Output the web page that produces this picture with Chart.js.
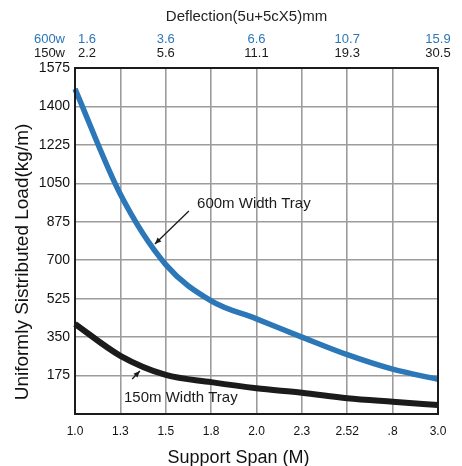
<!DOCTYPE html>
<html>
<head>
<meta charset="utf-8">
<script src="https://cdn.jsdelivr.net/npm/chart.js@4.4.1/dist/chart.umd.min.js"></script>
<style>
html, body { margin: 0; padding: 0; background: #fff; }
</style>
</head>
<body>
<canvas id="myChart" width="462" height="466"></canvas>
<script>
// support span categories (as printed on the chart)
let spanLabels = ['1.0', '1.3', '1.5', '1.8', '2.0', '2.3', '2.52', '.8', '3.0'];

// uniformly distributed load, kg/m
let load600 = [1480, 1000, 680, 515, 433, 350, 270, 204, 158];
let load150 = [410, 265, 178, 145, 117, 97, 72, 56, 41];

// deflection rows on top
let deflectionAt = ['1.0', '1.5', '2.0', '2.52', '3.0'];
let deflection600 = ['1.6', '3.6', '6.6', '10.7', '15.9'];
let deflection150 = ['2.2', '5.6', '11.1', '19.3', '30.5'];

let yTicks = [0, 175, 350, 525, 700, 875, 1050, 1225, 1400, 1575];

const FONT = "'Liberation Sans', Arial, Helvetica, sans-serif";
const BLUE = '#2c77b8';
const BLACK = '#1b1b1b';

// arrows and their labels, given in (category index, load) so they follow the scales
const notes = [
    {text: '600m Width Tray', at: [2.69, 956], from: [2.51, 924], to: [1.76, 774]},
    {text: '150m Width Tray', at: [1.08, 73], from: [1.26, 159], to: [1.43, 196]}
];

const extrasPlugin = {
    id: 'extras',
    afterDraw(chart) {
        const ctx = chart.ctx;
        const area = chart.chartArea;
        const x = chart.scales.x;
        const y = chart.scales.y;
        ctx.save();

        // frame round the plot
        ctx.strokeStyle = BLACK;
        ctx.lineWidth = 2;
        ctx.strokeRect(area.left, area.top, area.right - area.left, area.bottom - area.top);

        // deflection header
        ctx.fillStyle = '#222';
        ctx.textBaseline = 'middle';
        ctx.textAlign = 'center';
        ctx.font = '15px ' + FONT;
        ctx.fillText('Deflection(5u+5cX5)mm', (area.left + area.right) / 2 - 10, 17);

        ctx.font = '13px ' + FONT;
        ctx.textAlign = 'right';
        ctx.fillStyle = BLUE;
        ctx.fillText('600w', area.left - 10, 39);
        ctx.fillStyle = BLACK;
        ctx.fillText('150w', area.left - 10, 53);
        deflectionAt.forEach(function(lab, i) {
            let px = x.getPixelForValue(spanLabels.indexOf(lab));
            if (i === 0) {
                ctx.textAlign = 'left';
                px += 3;
            } else {
                ctx.textAlign = 'center';
            }
            ctx.fillStyle = BLUE;
            ctx.fillText(deflection600[i], px, 39);
            ctx.fillStyle = BLACK;
            ctx.fillText(deflection150[i], px, 53);
        });

        // axis titles
        ctx.fillStyle = '#111';
        ctx.textAlign = 'center';
        ctx.font = '18px ' + FONT;
        ctx.fillText('Support Span (M)', (area.left + area.right) / 2 - 18, 458);
        ctx.save();
        ctx.translate(23, (area.top + area.bottom) / 2 + 21);
        ctx.rotate(-Math.PI / 2);
        ctx.font = '19px ' + FONT;
        ctx.fillText('Uniformly Sistributed Load(kg/m)', 0, 0);
        ctx.restore();

        // annotations
        ctx.font = '15px ' + FONT;
        ctx.textAlign = 'left';
        ctx.strokeStyle = BLACK;
        ctx.fillStyle = BLACK;
        ctx.lineWidth = 1.3;
        notes.forEach(function(n) {
            ctx.fillText(n.text, x.getPixelForValue(n.at[0]), y.getPixelForValue(n.at[1]));
            const x1 = x.getPixelForValue(n.from[0]), y1 = y.getPixelForValue(n.from[1]);
            const x2 = x.getPixelForValue(n.to[0]), y2 = y.getPixelForValue(n.to[1]);
            ctx.beginPath();
            ctx.moveTo(x1, y1);
            ctx.lineTo(x2, y2);
            ctx.stroke();
            const ang = Math.atan2(y2 - y1, x2 - x1);
            const len = 7, w = 0.4;
            ctx.beginPath();
            ctx.moveTo(x2, y2);
            ctx.lineTo(x2 - len * Math.cos(ang - w), y2 - len * Math.sin(ang - w));
            ctx.lineTo(x2 - len * Math.cos(ang + w), y2 - len * Math.sin(ang + w));
            ctx.closePath();
            ctx.fill();
        });

        ctx.restore();
    }
};

let chartElement = document.getElementById('myChart').getContext('2d');

let myChart = new Chart(chartElement, {
    type: 'line',
    data: {
        labels: spanLabels,
        datasets: [{
            label: '600m Width Tray',
            data: load600,
            borderColor: BLUE,
            borderWidth: 5.5,
            pointRadius: 0,
            cubicInterpolationMode: 'monotone',
            fill: false
        }, {
            label: '150m Width Tray',
            data: load150,
            borderColor: BLACK,
            borderWidth: 6,
            pointRadius: 0,
            cubicInterpolationMode: 'monotone',
            fill: false
        }]
    },
    options: {
        responsive: false,
        animation: false,
        layout: {
            padding: {top: 68, right: 24, left: 0, bottom: 0}
        },
        plugins: {
            legend: {display: false},
            tooltip: {enabled: false}
        },
        scales: {
            x: {
                type: 'category',
                offset: false,
                grid: {color: '#9c9c9c', lineWidth: 1.6, drawTicks: false},
                border: {display: false},
                ticks: {
                    color: '#111',
                    padding: 10,
                    autoSkip: false,
                    maxRotation: 0,
                    font: {family: FONT, size: 12}
                },
                afterFit: function(s) { s.height = 52; }
            },
            y: {
                min: yTicks[0],
                max: yTicks[yTicks.length - 1],
                afterBuildTicks: function(s) {
                    s.ticks = yTicks.map(function(v) { return {value: v}; });
                },
                grid: {color: '#9c9c9c', lineWidth: 1.6, drawTicks: false},
                border: {display: false},
                ticks: {
                    color: '#111',
                    padding: 5,
                    font: {family: FONT, size: 14},
                    callback: function(v) { return v === 0 ? '' : v; }
                },
                afterFit: function(s) { s.width = 75; }
            }
        }
    },
    plugins: [extrasPlugin]
});
</script>
</body>
</html>
